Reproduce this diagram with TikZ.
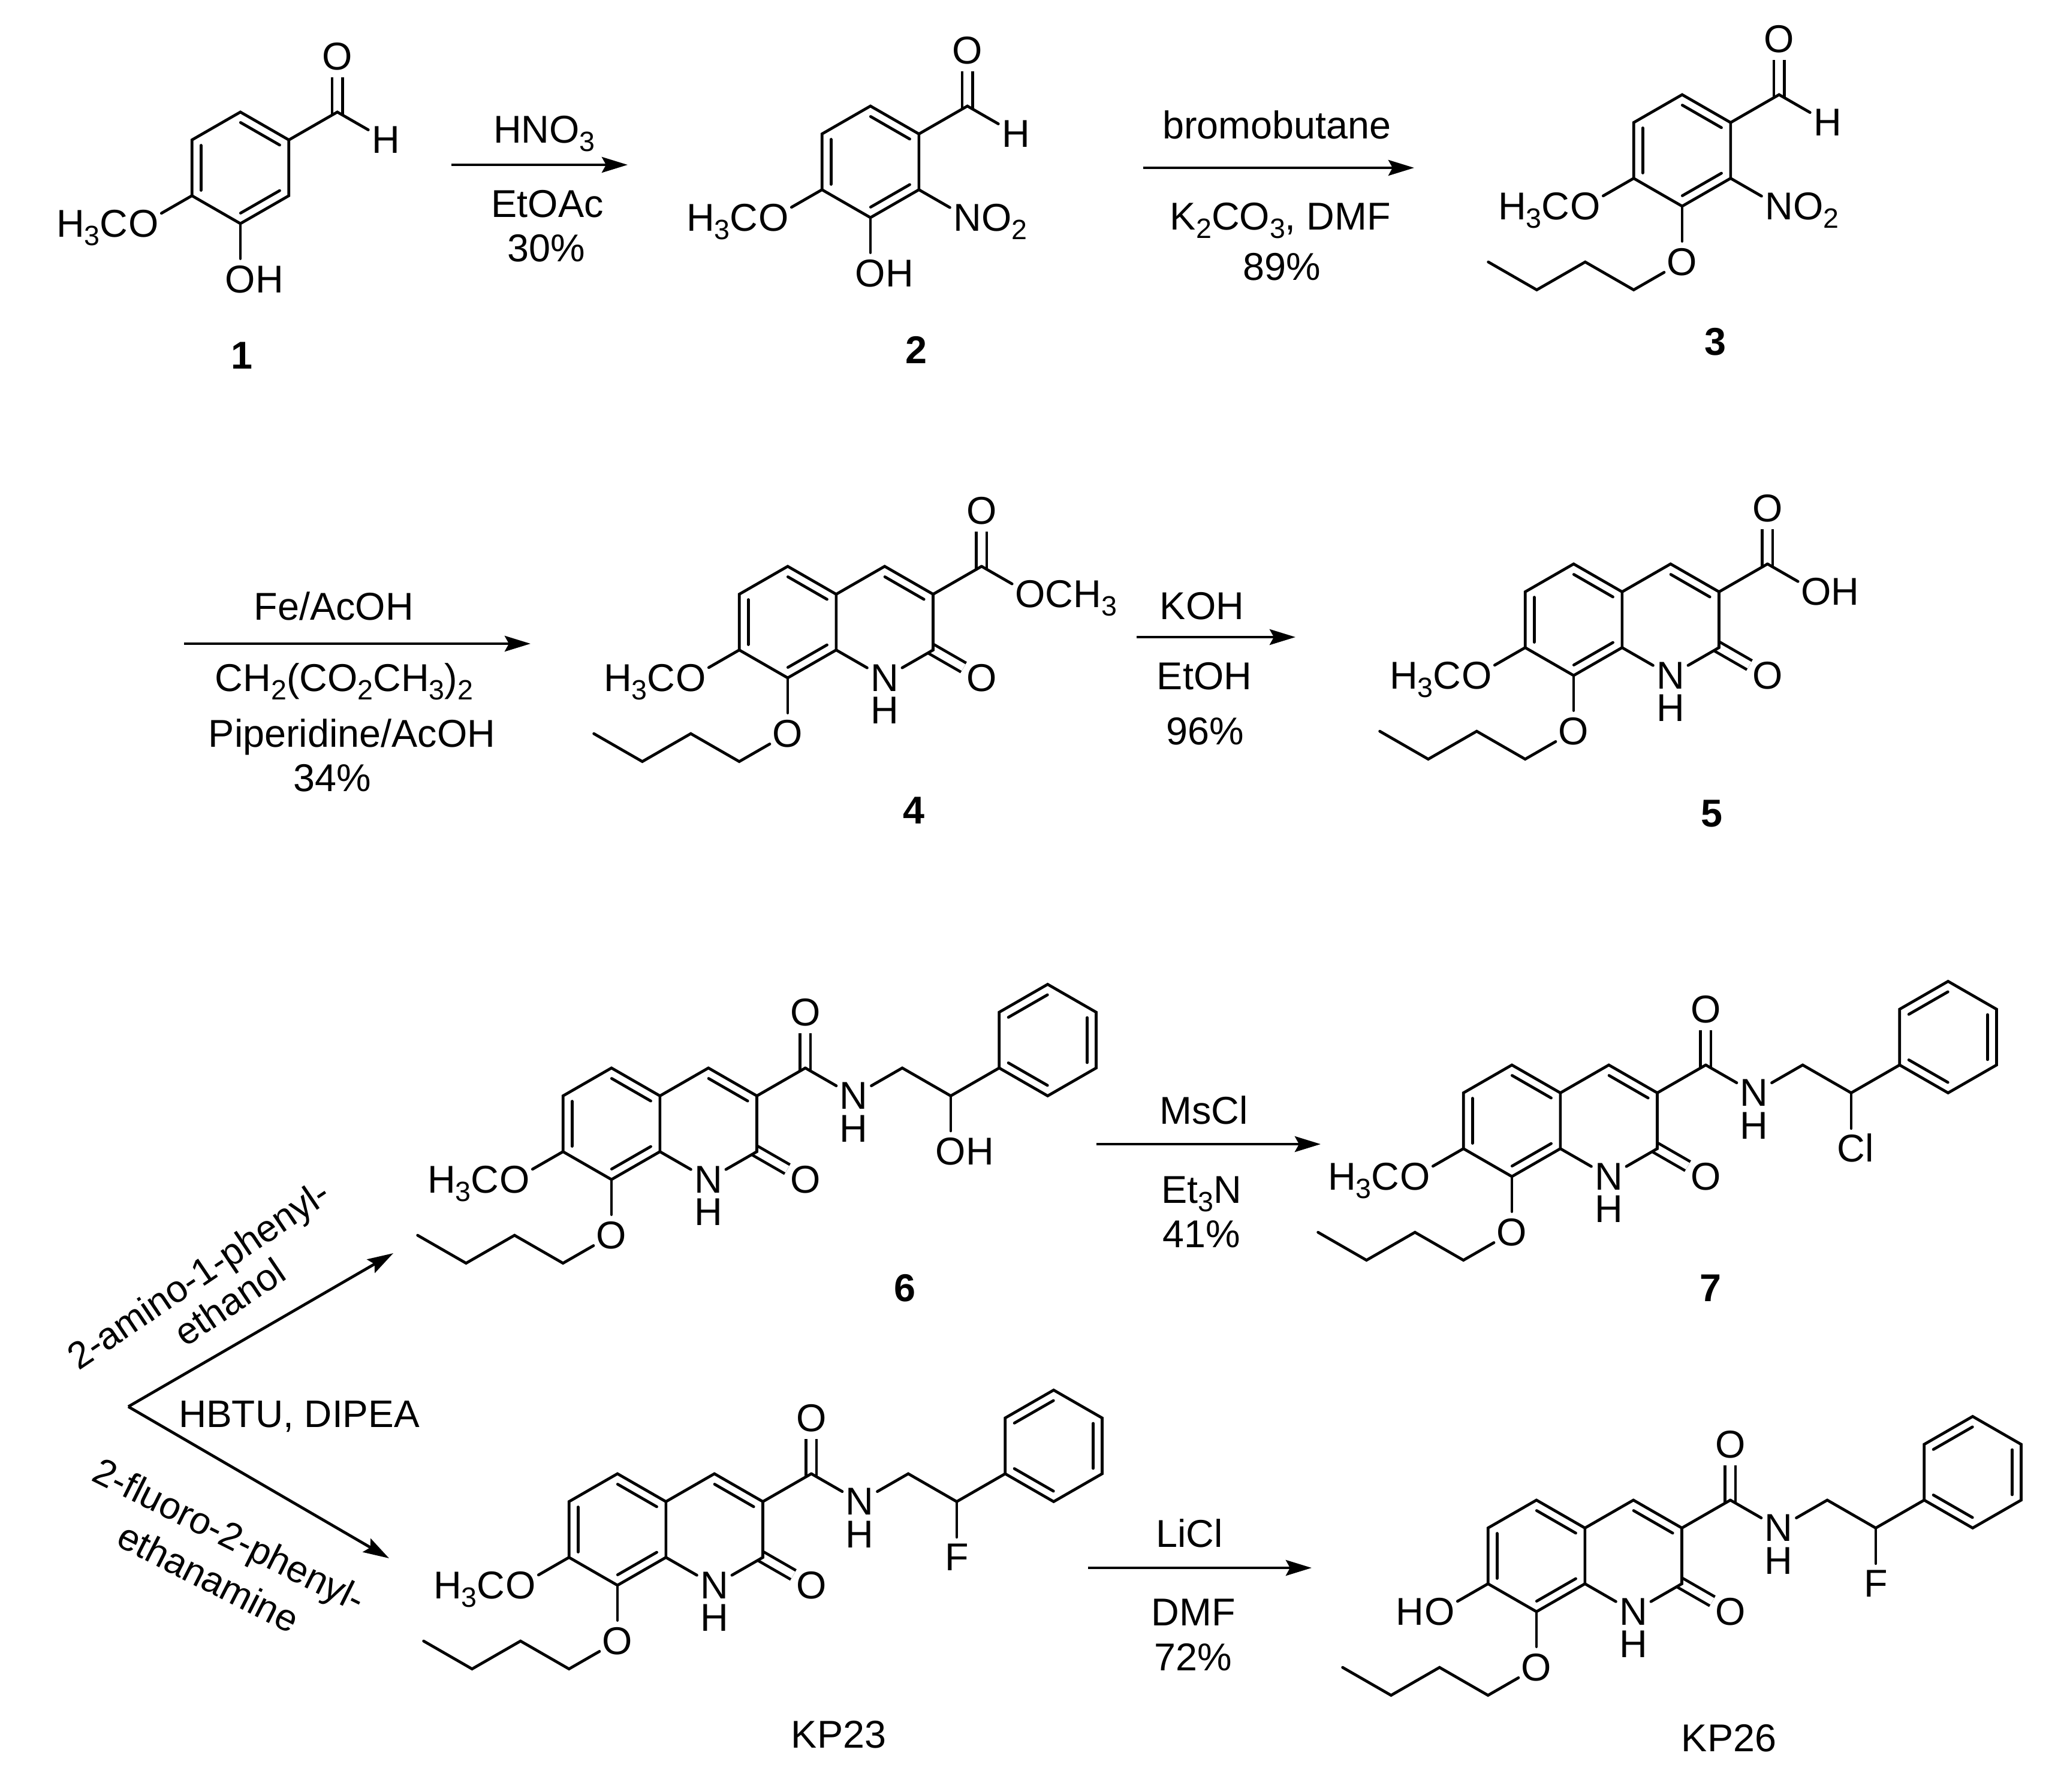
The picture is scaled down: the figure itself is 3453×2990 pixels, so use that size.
\documentclass[tikz,border=0pt]{standalone}
\usepackage{fontspec}
\setmainfont{Liberation Sans}
\usetikzlibrary{arrows.meta, positioning, calc}

\newcommand{\sbs}[1]{\raisebox{-.22em}{\scalebox{.72}{#1}}}

\tikzset{
    lattice/.style={shift={#1}, x=.808cm, y=-.465cm},
    atom/.style={circle, minimum size=.66cm},
    tail/.style={anchor=base west},
    head/.style={anchor=base east},
    reagent/.style={anchor=base},
    slanted/.style={font=\fontsize{17.9}{17.9}\selectfont},
    cmpd/.style={anchor=base, font=\fontsize{18.4}{18.4}\selectfont\bfseries},
    bond/.style={line width=.047cm, line cap=round, line join=miter},
    carbonyl/.style={line width=.047cm, double, double distance=.125cm, shorten <=-.04cm},
    rxn/.style={-{Stealth[length=.43cm, width=.26cm, inset=.07cm]}, line width=.047cm}
}

% inner line of a ring double bond, on the right of #1 -> #2
\newcommand{\inbond}[2]{\draw[bond, shorten <=.09cm, shorten >=.09cm] ($(#1)!.15cm!-90:(#2)$) -- ($(#2)!.15cm!90:(#1)$);}

% benzene ring, clockwise from the top
\newcommand{\ringsix}[1]{
    \coordinate (#1a) at (0,-2);
    \coordinate (#1b) at (1,-1);
    \coordinate (#1c) at (1,1);
    \coordinate (#1d) at (0,2);
    \coordinate (#1e) at (-1,1);
    \coordinate (#1f) at (-1,-1);
    \draw[bond] (#1a) -- (#1b) -- (#1c) -- (#1d) -- (#1e) -- (#1f) -- cycle;
    \inbond{#1a}{#1b}
    \inbond{#1c}{#1d}
    \inbond{#1e}{#1f}
}

\newcommand{\formyl}[1]{
    \coordinate (#1k) at (2,-2);
    \node (#1r) [atom] at (2,-4) {O};
    \node (#1ah) [atom] at (3,-1) {H};
    \draw[carbonyl] (#1k) -- (#1r);
    \draw[bond] (#1b) -- (#1k) -- (#1ah);
}

\newcommand{\methoxy}[1]{
    \node (#1mo) [atom] at (-2,2) {O};
    \node (#1me) [head] at ([xshift=-.25cm]#1mo.base) {H\sbs{3}C};
    \draw[bond] (#1e) -- (#1mo);
}

\newcommand{\nitro}[1]{
    \node (#1no) [atom] at (2,2) {N};
    \node (#1nt) [tail] at ([xshift=.23cm]#1no.base) {O\sbs{2}};
    \draw[bond] (#1c) -- (#1no);
}

\newcommand{\phenol}[1]{
    \node (#1po) [atom] at (0,4) {O};
    \node (#1ph) [tail] at ([xshift=.25cm]#1po.base) {H};
    \draw[bond] (#1d) -- (#1po);
}

\newcommand{\butoxy}[1]{
    \node (#1bo) [atom] at (0,4) {O};
    \coordinate (#1b1) at (-1,5);
    \coordinate (#1b2) at (-2,4);
    \coordinate (#1b3) at (-3,5);
    \coordinate (#1b4) at (-4,4);
    \draw[bond] (#1d) -- (#1bo);
    \draw[bond] (#1bo) -- (#1b1) -- (#1b2) -- (#1b3) -- (#1b4);
}

% second ring of the quinolone with both C=O
\newcommand{\lactam}[1]{
    \coordinate (#1g) at (2,-2);
    \coordinate (#1h) at (3,-1);
    \coordinate (#1i) at (3,1);
    \coordinate (#1k) at (4,-2);
    \node (#1n) [atom] at (2,2) {N};
    \node (#1nh) [atom] at ([yshift=-.545cm]#1n.center) {H};
    \node (#1q) [atom] at (4,2) {O};
    \node (#1r) [atom] at (4,-4) {O};
    \draw[carbonyl] (#1i) -- (#1q);
    \draw[carbonyl] (#1k) -- (#1r);
    \draw[bond] (#1b) -- (#1g) -- (#1h) -- (#1i) -- (#1n) -- (#1c);
    \draw[bond] (#1h) -- (#1k);
    \inbond{#1g}{#1h}
}

% amide N, CH2, CH and the phenyl ring
\newcommand{\sidechain}[1]{
    \node (#1an) [atom] at (5,-1) {N};
    \node (#1anh) [atom] at ([yshift=-.545cm]#1an.center) {H};
    \coordinate (#1s) at (6,-2);
    \coordinate (#1t) at (7,-1);
    \coordinate (#1u) at (8,-2);
    \coordinate (#1v) at (9,-1);
    \coordinate (#1w) at (10,-2);
    \coordinate (#1x) at (10,-4);
    \coordinate (#1y) at (9,-5);
    \coordinate (#1z) at (8,-4);
    \draw[bond] (#1k) -- (#1an) -- (#1s) -- (#1t) -- (#1u);
    \draw[bond] (#1u) -- (#1v) -- (#1w) -- (#1x) -- (#1y) -- (#1z) -- cycle;
    \inbond{#1z}{#1y}
    \inbond{#1x}{#1w}
    \inbond{#1v}{#1u}
}

\begin{document}
\begin{tikzpicture}[
        x=.01cm, y=-.01cm,
        every node/.style={inner sep=0pt, font=\fontsize{18.4}{18.4}\selectfont}
    ]
    \useasboundingbox (0,0) rectangle (3453,2990);

    % Compounds, first row
    \begin{scope}[lattice={(401,280)}]
        \ringsix{m1}
        \formyl{m1}
        \methoxy{m1}
        \phenol{m1}
    \end{scope}
    \begin{scope}[lattice={(1452,270)}]
        \ringsix{m2}
        \formyl{m2}
        \methoxy{m2}
        \nitro{m2}
        \phenol{m2}
    \end{scope}
    \begin{scope}[lattice={(2806,251)}]
        \ringsix{m3}
        \formyl{m3}
        \methoxy{m3}
        \nitro{m3}
        \butoxy{m3}
    \end{scope}

    % Compounds, second row
    \begin{scope}[lattice={(1314,1038)}]
        \ringsix{m4}
        \lactam{m4}
        \methoxy{m4}
        \butoxy{m4}
        \node (m4eo) [atom] at (5,-1) {O};
        \node (m4et) [tail] at ([xshift=.25cm]m4eo.base) {CH\sbs{3}};
        \draw[bond] (m4k) -- (m4eo);
    \end{scope}
    \begin{scope}[lattice={(2625,1034)}]
        \ringsix{m5}
        \lactam{m5}
        \methoxy{m5}
        \butoxy{m5}
        \node (m5eo) [atom] at (5,-1) {O};
        \node (m5et) [tail] at ([xshift=.25cm]m5eo.base) {H};
        \draw[bond] (m5k) -- (m5eo);
    \end{scope}

    % Compounds, third and fourth row
    \begin{scope}[lattice={(1020,1875)}]
        \ringsix{m6}
        \lactam{m6}
        \methoxy{m6}
        \butoxy{m6}
        \sidechain{m6}
        \node (m6so) [atom] at (7,1) {O};
        \node (m6sh) [tail] at ([xshift=.25cm]m6so.base) {H};
        \draw[bond] (m6t) -- (m6so);
    \end{scope}
    \begin{scope}[lattice={(2522,1870)}]
        \ringsix{m7}
        \lactam{m7}
        \methoxy{m7}
        \butoxy{m7}
        \sidechain{m7}
        \node (m7sc) [atom] at (7,1) {C};
        \node (m7sl) [tail] at ([xshift=.23cm]m7sc.base) {l};
        \draw[bond] (m7t) -- (m7sc);
    \end{scope}
    \begin{scope}[lattice={(1030,2552)}]
        \ringsix{m8}
        \lactam{m8}
        \methoxy{m8}
        \butoxy{m8}
        \sidechain{m8}
        \node (m8sf) [atom] at (7,1) {F};
        \draw[bond] (m8t) -- (m8sf);
    \end{scope}
    \begin{scope}[lattice={(2563,2596)}]
        \ringsix{m9}
        \lactam{m9}
        \butoxy{m9}
        \sidechain{m9}
        \node (m9sf) [atom] at (7,1) {F};
        \draw[bond] (m9t) -- (m9sf);
        \node (m9ho) [atom] at (-2,2) {O};
        \node (m9hh) [head] at ([xshift=-.25cm]m9ho.base) {H};
        \draw[bond] (m9e) -- (m9ho);
    \end{scope}

    % Compound labels
    \node (lab1) [cmpd] at (403,615) {1};
    \node (lab2) [cmpd] at (1528,606) {2};
    \node (lab3) [cmpd] at (2861,592) {3};
    \node (lab4) [cmpd] at (1524,1374) {4};
    \node (lab5) [cmpd] at (2855,1379) {5};
    \node (lab6) [cmpd] at (1509,2171) {6};
    \node (lab7) [cmpd] at (2853,2171) {7};
    \node (lab8) [reagent] at (1399,2916) {KP23};
    \node (lab9) [reagent] at (2884,2922) {KP26};

    % Reaction arrows
    \coordinate (r1s) at (753,275);
    \coordinate (r1e) at (1047,275);
    \coordinate (r2s) at (1907,280);
    \coordinate (r2e) at (2359,280);
    \coordinate (r3s) at (307,1074);
    \coordinate (r3e) at (885,1074);
    \coordinate (r4s) at (1896,1063);
    \coordinate (r4e) at (2161,1063);
    \coordinate (r5s) at (1829,1909);
    \coordinate (r5e) at (2203,1909);
    \coordinate (r6s) at (1815,2616);
    \coordinate (r6e) at (2188,2616);
    \coordinate (fork) at (214,2347);
    \coordinate (forku) at (656,2091);
    \coordinate (forkd) at (649,2600);
    \draw[rxn] (r1s) -- (r1e);
    \draw[rxn] (r2s) -- (r2e);
    \draw[rxn] (r3s) -- (r3e);
    \draw[rxn] (r4s) -- (r4e);
    \draw[rxn] (r5s) -- (r5e);
    \draw[rxn] (r6s) -- (r6e);
    \draw[rxn] (fork) -- (forku);
    \draw[rxn] (fork) -- (forkd);

    % Reagents
    \node (t1a) [reagent] at (908,238) {HNO\sbs{3}};
    \node (t1b) [reagent] at (913,362) {EtOAc};
    \node (t1c) [reagent] at (911,436) {30\%};
    \node (t2a) [reagent] at (2130,231) {bromobutane};
    \node (t2b) [reagent] at (2136,383) {K\sbs{2}CO\sbs{3}, DMF};
    \node (t2c) [reagent] at (2138,467) {89\%};
    \node (t3a) [reagent] at (557,1034) {Fe/AcOH};
    \node (t3b) [reagent] at (574,1153) {CH\sbs{2}(CO\sbs{2}CH\sbs{3})\sbs{2}};
    \node (t3c) [reagent] at (587,1246) {Piperidine/AcOH};
    \node (t3d) [reagent] at (554,1320) {34\%};
    \node (t4a) [reagent] at (2005,1033) {KOH};
    \node (t4b) [reagent] at (2009,1150) {EtOH};
    \node (t4c) [reagent] at (2010,1242) {96\%};
    \node (t5a) [reagent] at (2008,1875) {MsCl};
    \node (t5b) [reagent] at (2004,2007) {Et\sbs{3}N};
    \node (t5c) [reagent] at (2004,2081) {41\%};
    \node (t6a) [reagent] at (1984,2581) {LiCl};
    \node (t6b) [reagent] at (1991,2712) {DMF};
    \node (t6c) [reagent] at (1990,2787) {72\%};
    \node (t7) [reagent, font=\fontsize{18.2}{18.2}\selectfont] at (499,2381) {HBTU, DIPEA};
    \node (t8a) [rotate=34, slanted] at (334,2131) {2-amino-1-phenyl-};
    \node (t8b) [rotate=34, slanted] at (383,2172) {ethanol};
    \node (t9a) [rotate=-26.5, slanted] at (380,2566) {2-fluoro-2-phenyl-};
    \node (t9b) [rotate=-27, slanted] at (348,2632) {ethanamine};
\end{tikzpicture}
\end{document}
